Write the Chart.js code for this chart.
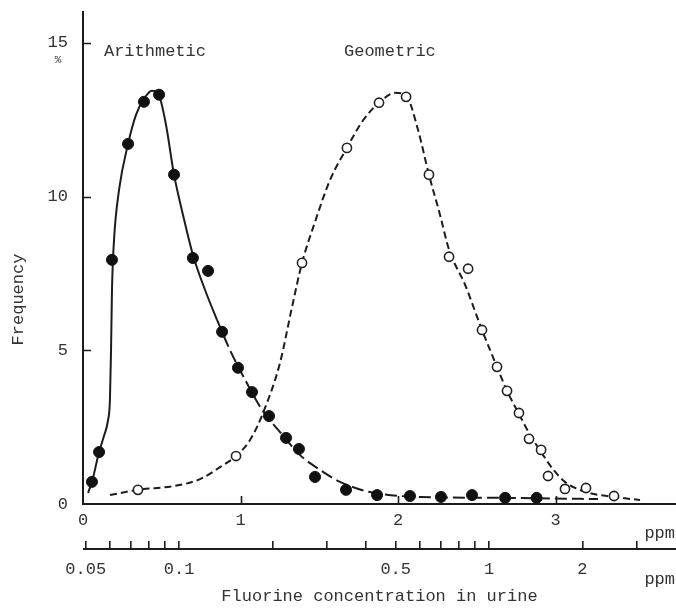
<!DOCTYPE html>
<html>
<head>
<meta charset="utf-8">
<script src="https://cdn.jsdelivr.net/npm/chart.js@4.4.1/dist/chart.umd.min.js"></script>
<style>
  html, body { margin: 0; padding: 0; background: #ffffff; }
  #wrap { width: 676px; height: 609px; }
</style>
</head>
<body>
<div id="wrap"><canvas id="c" width="676" height="609"></canvas></div>
<script>
// ---------- data ----------
// Arithmetic distribution (filled dots), x in ppm on the linear axis, y in %
const arithX = [0.057, 0.102, 0.184, 0.286, 0.387, 0.483, 0.578, 0.698, 0.794, 0.883, 0.984, 1.073, 1.181, 1.289, 1.371, 1.473, 1.670, 1.867, 2.076, 2.273, 2.470, 2.680, 2.880];
const arithY = [0.72, 1.69, 7.94, 11.71, 13.08, 13.31, 10.71, 8.00, 7.58, 5.60, 4.43, 3.64, 2.86, 2.15, 1.79, 0.88, 0.46, 0.29, 0.26, 0.23, 0.29, 0.20, 0.20];

// Geometric distribution (open circles), x in ppm on the logarithmic axis, y in %
const geoX = [0.0737, 0.1527, 0.2493, 0.348, 0.4417, 0.540, 0.640, 0.743, 0.856, 0.949, 1.061, 1.143, 1.249, 1.346, 1.472, 1.550, 1.758, 2.055, 2.530];
const geoY = [0.46, 1.56, 7.84, 11.58, 13.05, 13.24, 10.71, 8.04, 7.65, 5.66, 4.46, 3.68, 2.96, 2.12, 1.76, 0.91, 0.49, 0.52, 0.26];

// Fitted curves drawn through the points
const arithCurveX = [0.032, 0.057, 0.102, 0.133, 0.159, 0.171, 0.178, 0.184, 0.197, 0.229, 0.286, 0.337, 0.387, 0.438, 0.483, 0.527, 0.578, 0.635, 0.698, 0.775, 0.851, 0.933, 1.029, 1.137, 1.251, 1.378, 1.505, 1.632, 1.822, 2.140, 2.648, 3.270];
const arithCurveY = [0.36, 0.72, 1.69, 2.21, 2.73, 3.38, 5.01, 6.96, 8.59, 10.22, 11.71, 12.66, 13.18, 13.44, 13.28, 12.33, 10.71, 9.40, 8.10, 6.96, 5.99, 5.01, 4.04, 3.06, 2.34, 1.59, 1.11, 0.72, 0.39, 0.23, 0.20, 0.16];
const geoCurveX = [0.0599, 0.0737, 0.0971, 0.1169, 0.1356, 0.1527, 0.1694, 0.1866, 0.2117, 0.2315, 0.2493, 0.2747, 0.3070, 0.348, 0.3894, 0.4417, 0.4973, 0.540, 0.590, 0.640, 0.695, 0.743, 0.837, 0.949, 1.061, 1.143, 1.249, 1.356, 1.472, 1.597, 1.758, 2.055, 2.530, 3.070];
const geoCurveY = [0.29, 0.46, 0.59, 0.81, 1.20, 1.56, 2.08, 2.96, 4.59, 6.41, 7.84, 9.18, 10.54, 11.58, 12.43, 13.05, 13.37, 13.28, 12.17, 10.71, 9.40, 8.27, 7.13, 5.66, 4.46, 3.68, 2.93, 2.25, 1.69, 1.17, 0.72, 0.39, 0.23, 0.13];

// Tick values / labels
const yTicks = [0, 5, 10, 15];
const xTicks = [0, 1, 2, 3];
const logTicks = [0.05, 0.06, 0.07, 0.08, 0.09, 0.1, 0.2, 0.3, 0.4, 0.5, 0.6, 0.7, 0.8, 0.9, 1, 2, 3];
const logTickLabels = { 0.05: '0.05', 0.1: '0.1', 0.5: '0.5', 1: '1', 2: '2' };

// Texts
const seriesNames = ['Arithmetic', 'Geometric'];
const unitText = 'ppm';
const xTitle = 'Fluorine concentration in urine';
const yTitle = 'Frequency';
const yUnit = '%';

// ---------- styles ----------
const INK = '#1c1c1c';
const TEXT = '#333333';
const FONT = '"Liberation Mono", "DejaVu Sans Mono", monospace';
const nameAnchors = [[0.133, 14.7], [1.657, 14.7]]; // data coords of the series labels (linear x, y)

Chart.defaults.font.family = FONT;
Chart.defaults.font.size = 17;
Chart.defaults.color = TEXT;

const toPts = (xs, ys) => xs.map((v, i) => ({ x: v, y: ys[i] }));

const decor = {
  id: 'decor',
  afterDraw(chart) {
    const { ctx } = chart;
    const x = chart.scales.x, x2 = chart.scales.x2, y = chart.scales.y;
    ctx.save();
    ctx.strokeStyle = INK;
    ctx.lineWidth = 1.6;
    ctx.beginPath();
    // inner tick marks on the y axis
    yTicks.forEach(v => {
      if (v === 0) return;
      const py = Math.round(y.getPixelForValue(v)) + 0.5;
      ctx.moveTo(x.left, py); ctx.lineTo(x.left + 8, py);
    });
    // inner tick marks on the linear x axis
    xTicks.forEach(v => {
      if (v === 0) return;
      const px = Math.round(x.getPixelForValue(v)) + 0.5;
      ctx.moveTo(px, y.bottom); ctx.lineTo(px, y.bottom - 8);
    });
    ctx.stroke();
    // baseline of the logarithmic axis (ticks rise from it)
    const by = x2.top + x2.options.grid.tickLength;
    ctx.lineWidth = 2;
    ctx.beginPath();
    ctx.moveTo(x2.left, by); ctx.lineTo(x2.right, by);
    ctx.stroke();

    // texts
    ctx.fillStyle = TEXT;
    ctx.font = '17px ' + FONT;
    ctx.textBaseline = 'middle';
    ctx.textAlign = 'left';
    seriesNames.forEach((n, i) => {
      ctx.fillText(n, x.getPixelForValue(nameAnchors[i][0]), y.getPixelForValue(nameAnchors[i][1]));
    });
    // unit labels at the right end of both x axes
    ctx.textAlign = 'right';
    ctx.fillText(unitText, x.right - 1, x.top + 29);
    ctx.fillText(unitText, x2.right - 1, x2.top + 38);
    // y axis title (rotated)
    ctx.save();
    ctx.translate(18, y.getPixelForValue(6.65));
    ctx.rotate(-Math.PI / 2);
    ctx.textAlign = 'center';
    ctx.fillText(yTitle, 0, 0);
    ctx.restore();
    // % sign under the 15 label
    ctx.font = '11px ' + FONT;
    ctx.textAlign = 'center';
    ctx.fillText(yUnit, 58, y.getPixelForValue(15) + 17);
    ctx.restore();
  }
};

const noPadH = s => { s.paddingLeft = 0; s.paddingRight = 0; };

new Chart(document.getElementById('c'), {
  type: 'scatter',
  data: {
    datasets: [
      {
        label: 'Arithmetic points',
        data: toPts(arithX, arithY),
        xAxisID: 'x', yAxisID: 'y',
        pointRadius: 5.5, pointBackgroundColor: '#111', pointBorderColor: '#111', pointBorderWidth: 1,
        showLine: false, order: 1
      },
      {
        label: 'Geometric points',
        data: toPts(geoX, geoY),
        xAxisID: 'x2', yAxisID: 'y',
        pointRadius: 4.6, pointBackgroundColor: '#ffffff', pointBorderColor: '#222', pointBorderWidth: 1.6,
        showLine: false, order: 1
      },
      {
        label: 'Arithmetic curve',
        data: toPts(arithCurveX, arithCurveY),
        xAxisID: 'x', yAxisID: 'y',
        showLine: true, pointRadius: 0, borderColor: INK, borderWidth: 2,
        cubicInterpolationMode: 'monotone',
        segment: { borderDash: c => (c.p0.parsed.x >= 0.85 ? [12, 5] : []) },
        order: 2
      },
      {
        label: 'Geometric curve',
        data: toPts(geoCurveX, geoCurveY),
        xAxisID: 'x2', yAxisID: 'y',
        showLine: true, pointRadius: 0, borderColor: INK, borderWidth: 2,
        borderDash: [7, 4],
        cubicInterpolationMode: 'monotone',
        order: 2
      }
    ]
  },
  options: {
    responsive: false,
    animation: false,
    layout: { autoPadding: false, padding: { top: 12, right: 0, bottom: 0, left: 0 } },
    plugins: { legend: { display: false }, tooltip: { enabled: false } },
    scales: {
      x: {
        type: 'linear', position: 'bottom', weight: 0,
        min: 0, max: 3.765,
        afterBuildTicks: s => { s.ticks = xTicks.map(v => ({ value: v })); },
        afterFit: s => { s.height = 37; noPadH(s); },
        grid: { display: false, drawTicks: false },
        border: { display: true, color: INK, width: 2 },
        ticks: { padding: 6, maxRotation: 0, autoSkip: false, color: TEXT }
      },
      x2: {
        type: 'logarithmic', position: 'bottom', weight: 1,
        min: 0.049, max: 4.01,
        afterBuildTicks: s => { s.ticks = logTicks.map(v => ({ value: v })); },
        afterFit: s => { s.height = 68; noPadH(s); },
        grid: { display: true, drawOnChartArea: false, drawTicks: true, tickLength: 8, color: INK, lineWidth: 1.6 },
        border: { display: false },
        ticks: {
          padding: 10, maxRotation: 0, autoSkip: false, color: TEXT,
          callback: v => (logTickLabels[v] !== undefined ? logTickLabels[v] : '')
        },
        title: { display: true, text: xTitle, color: TEXT, font: { size: 17 }, padding: { top: 0, bottom: 2 } }
      },
      y: {
        type: 'linear', position: 'left',
        min: 0, max: 16,
        afterBuildTicks: s => { s.ticks = yTicks.map(v => ({ value: v })); },
        afterFit: s => { s.width = 83; s.paddingTop = 0; s.paddingBottom = 0; },
        grid: { display: false, drawTicks: false },
        border: { display: true, color: INK, width: 2 },
        ticks: { padding: 15, color: TEXT }
      }
    }
  },
  plugins: [decor]
});
</script>
</body>
</html>
